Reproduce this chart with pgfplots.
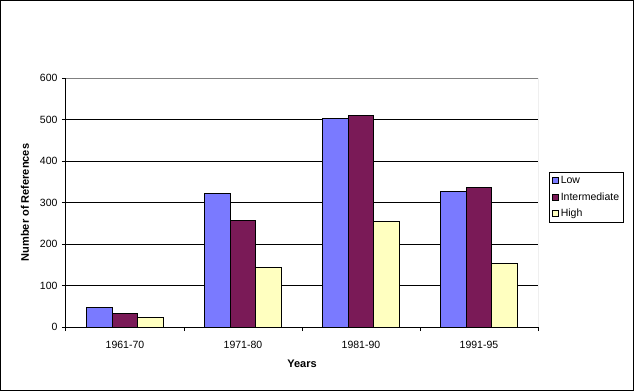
\documentclass[border=0pt]{standalone}
\usepackage{fontspec}
\setmainfont{Liberation Sans}
\usepackage{pgfplots}
\pgfplotsset{compat=1.18}
\definecolor{lowc}{RGB}{122,122,255}
\definecolor{intc}{RGB}{122,26,87}
\definecolor{highc}{RGB}{255,255,192}
\begin{document}
\begin{tikzpicture}[x=1pt,y=1pt]
\useasboundingbox (0,0) rectangle (634,391);
\draw[black, line width=1pt] (0.5,0.5) rectangle (633.5,390.5);
\begin{axis}[
  at={(66pt,64pt)}, anchor=south west,
  width=472pt, height=249pt, scale only axis,
  /pgf/number format/assume math mode=true,
  font=\fontsize{10.5}{12}\selectfont,
  xmin=-0.5, xmax=3.5, ymin=0, ymax=600,
  ytick={0,100,...,600},
  xtick={0,1,2,3},
  xticklabels={1961-70,1971-80,1981-90,1991-95},
  minor xtick={-0.5,0.5,1.5,2.5,3.5},
  major x tick style={draw=none},
  tick align=outside,
  major tick length=4pt, minor tick length=4pt,
  tick style={black, line width=1pt},
  axis lines*=left,
  axis line style={black, line width=1pt},
  ymajorgrids, grid style={black, line width=1pt},
  ybar=0pt, bar width=0.22,
  xticklabel style={yshift=-7pt},
  yticklabel style={xshift=-1pt},
  xlabel={\bfseries Years},
  ylabel={\bfseries Number of References},
  xlabel style={at={(axis description cs:0.5,-0.1486)}, anchor=center, font=\fontsize{11}{13}\selectfont},
  ylabel style={at={(axis description cs:-0.0869,0.5)}, anchor=center, font=\fontsize{11}{13}\selectfont},
  legend style={at={(axis description cs:1.0233,0.6225)}, anchor=north west,
    draw=black, line width=1pt, font=\fontsize{10.5}{12}\selectfont,
    inner xsep=2.5pt, inner ysep=2pt, row sep=3.5pt, cells={anchor=west}},
  legend image code/.code={\draw[#1, line width=0.8pt] (0pt,-3pt) rectangle (6pt,3pt);},
]
\addplot[fill=lowc, draw=black, line width=1pt, bar shift=-0.22] coordinates {(0,47) (1,322) (2,503) (3,327)};
\addplot[fill=intc, draw=black, line width=1pt, bar shift=0] coordinates {(0,33) (1,257) (2,510) (3,335)};
\addplot[fill=highc, draw=black, line width=1pt, bar shift=0.22] coordinates {(0,23) (1,144) (2,255) (3,154)};
\legend{Low,Intermediate,High}
\draw[gray, line width=1pt] (rel axis cs:0,1) -- (rel axis cs:1,1) -- (rel axis cs:1,0);
\end{axis}
\end{tikzpicture}
\end{document}
